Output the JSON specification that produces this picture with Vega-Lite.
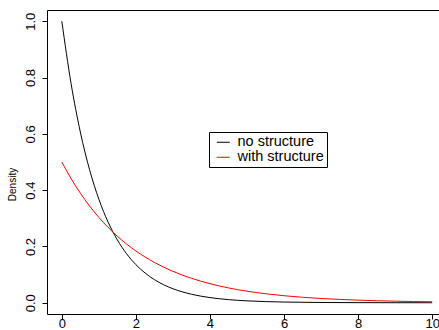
{
  "$schema": "https://vega.github.io/schema/vega-lite/v6.json",
  "width": 400,
  "height": 304,
  "autosize": {"type": "none"},
  "padding": {"left": 47, "top": 10, "right": 0, "bottom": 16},
  "background": "white",
  "config": {
    "view": {"stroke": "black", "strokeWidth": 1},
    "font": "Liberation Sans",
    "axis": {"domain": false, "grid": false, "tickColor": "black", "labelColor": "black", "titleColor": "black", "tickSize": 5, "labelFontWeight": "normal", "titleFontWeight": "normal"}
  },
  "data": {
    "values": [
      {"x": 0, "y": 1.0, "s": "no structure"},
      {"x": 0.25, "y": 0.7788, "s": "no structure"},
      {"x": 0.5, "y": 0.6065, "s": "no structure"},
      {"x": 0.75, "y": 0.4724, "s": "no structure"},
      {"x": 1, "y": 0.3679, "s": "no structure"},
      {"x": 1.25, "y": 0.2865, "s": "no structure"},
      {"x": 1.5, "y": 0.2231, "s": "no structure"},
      {"x": 1.75, "y": 0.1738, "s": "no structure"},
      {"x": 2, "y": 0.1353, "s": "no structure"},
      {"x": 2.25, "y": 0.1054, "s": "no structure"},
      {"x": 2.5, "y": 0.0821, "s": "no structure"},
      {"x": 2.75, "y": 0.0639, "s": "no structure"},
      {"x": 3, "y": 0.0498, "s": "no structure"},
      {"x": 3.5, "y": 0.0302, "s": "no structure"},
      {"x": 4, "y": 0.0183, "s": "no structure"},
      {"x": 4.5, "y": 0.0111, "s": "no structure"},
      {"x": 5, "y": 0.0067, "s": "no structure"},
      {"x": 5.5, "y": 0.0041, "s": "no structure"},
      {"x": 6, "y": 0.0025, "s": "no structure"},
      {"x": 7, "y": 0.0009, "s": "no structure"},
      {"x": 8, "y": 0.0003, "s": "no structure"},
      {"x": 9, "y": 0.0001, "s": "no structure"},
      {"x": 10, "y": 0.0, "s": "no structure"},
      {"x": 0, "y": 0.5, "s": "with structure"},
      {"x": 0.25, "y": 0.4412, "s": "with structure"},
      {"x": 0.5, "y": 0.3894, "s": "with structure"},
      {"x": 0.75, "y": 0.3436, "s": "with structure"},
      {"x": 1, "y": 0.3033, "s": "with structure"},
      {"x": 1.25, "y": 0.2676, "s": "with structure"},
      {"x": 1.5, "y": 0.2362, "s": "with structure"},
      {"x": 1.75, "y": 0.2084, "s": "with structure"},
      {"x": 2, "y": 0.1839, "s": "with structure"},
      {"x": 2.5, "y": 0.1433, "s": "with structure"},
      {"x": 3, "y": 0.1116, "s": "with structure"},
      {"x": 3.5, "y": 0.0869, "s": "with structure"},
      {"x": 4, "y": 0.0677, "s": "with structure"},
      {"x": 4.5, "y": 0.0527, "s": "with structure"},
      {"x": 5, "y": 0.041, "s": "with structure"},
      {"x": 5.5, "y": 0.032, "s": "with structure"},
      {"x": 6, "y": 0.0249, "s": "with structure"},
      {"x": 6.5, "y": 0.0194, "s": "with structure"},
      {"x": 7, "y": 0.0151, "s": "with structure"},
      {"x": 7.5, "y": 0.0118, "s": "with structure"},
      {"x": 8, "y": 0.0092, "s": "with structure"},
      {"x": 8.5, "y": 0.0071, "s": "with structure"},
      {"x": 9, "y": 0.0056, "s": "with structure"},
      {"x": 9.5, "y": 0.0043, "s": "with structure"},
      {"x": 10, "y": 0.0034, "s": "with structure"}
    ]
  },
  "mark": {"type": "line", "interpolate": "monotone", "strokeWidth": 1, "clip": true},
  "encoding": {
    "x": {
      "field": "x", "type": "quantitative",
      "scale": {"domain": [-0.4, 10.4], "nice": false, "zero": false},
      "axis": {"values": [0, 2, 4, 6, 8, 10], "title": null, "labelFontSize": 13, "labelBaseline": "top", "labelPadding": -2, "labelFlush": false, "labelOverlap": false}
    },
    "y": {
      "field": "y", "type": "quantitative",
      "scale": {"domain": [-0.04, 1.04], "nice": false, "zero": false},
      "axis": {"values": [0, 0.2, 0.4, 0.6, 0.8, 1.0], "format": ".1f", "title": "Density", "titleFontSize": 10, "titleAngle": -90, "titleX": -32, "titleY": 174, "titleAlign": "center", "titleBaseline": "alphabetic", "labelFontSize": 13, "labelAngle": -90, "labelAlign": "center", "labelBaseline": "alphabetic", "labelPadding": 8, "labelFlush": false, "labelOverlap": false}
    },
    "color": {
      "field": "s", "type": "nominal",
      "scale": {"domain": ["no structure", "with structure"], "range": ["#000000", "#FF0000"]},
      "legend": {"title": null, "orient": "none", "legendX": 162, "legendY": 122, "symbolType": "stroke", "symbolSize": 169, "symbolStrokeWidth": 1, "labelFontSize": 14.5, "labelColor": "black", "labelOffset": 7, "labelExpr": "datum.label + '\u2003\u2003\u2003\u00a0'", "rowPadding": 0, "padding": 3, "symbolOffset": 4, "strokeColor": "black", "fillColor": "white"}
    }
  }
}
